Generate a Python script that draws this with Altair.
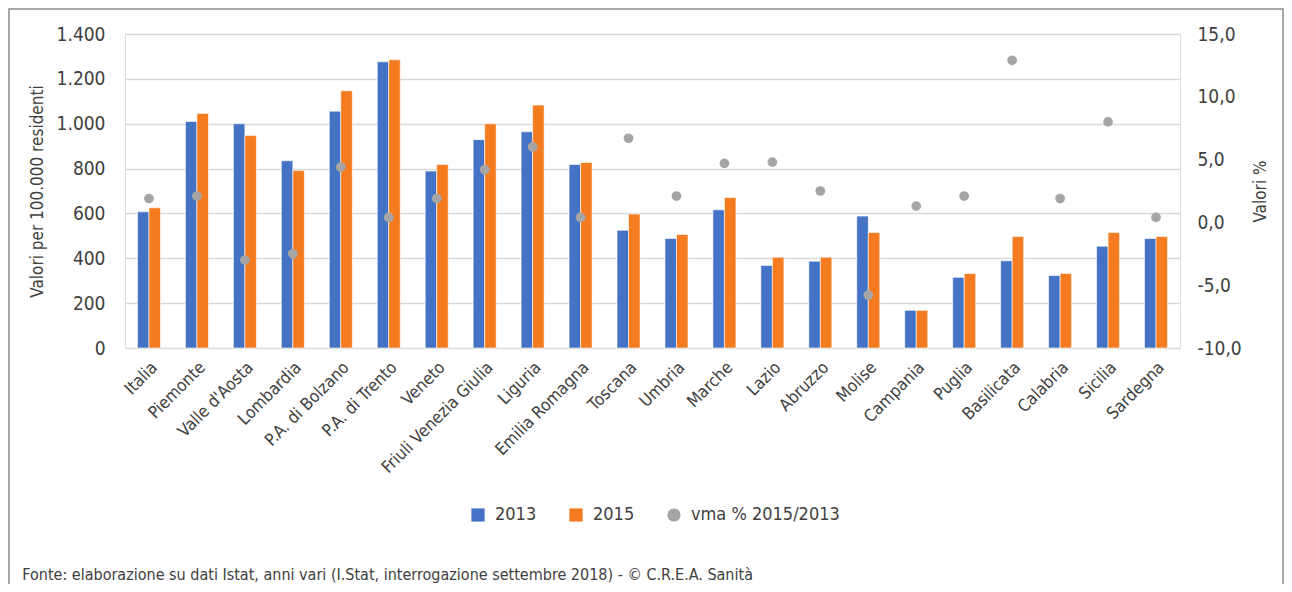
import altair as alt
import pandas as pd

regions = ["Italia", "Piemonte", "Valle d'Aosta", "Lombardia", "P.A. di Bolzano",
           "P.A. di Trento", "Veneto", "Friuli Venezia Giulia", "Liguria",
           "Emilia Romagna", "Toscana", "Umbria", "Marche", "Lazio", "Abruzzo",
           "Molise", "Campania", "Puglia", "Basilicata", "Calabria", "Sicilia", "Sardegna"]
v2013 = [607, 1010, 1000, 835, 1056, 1276, 789, 929, 964, 818, 525, 488, 616, 368, 387,
         588, 168, 315, 389, 323, 454, 488]
v2015 = [625, 1046, 947, 791, 1147, 1285, 818, 1000, 1083, 827, 597, 506, 671, 405, 405,
         515, 168, 332, 497, 332, 515, 497]
vma = [1.9, 2.1, -3.0, -2.5, 4.4, 0.4, 1.9, 4.2, 6.0, 0.4, 6.7, 2.1, 4.7, 4.8, 2.5,
       -5.8, 1.3, 2.1, 12.9, 1.9, 8.0, 0.4]

series = ["2013", "2015", "vma % 2015/2013"]
colors = ["#4472C4", "#F47B20", "#A5A5A5"]
shapes = ["square", "square", "circle"]

FONT = "Liberation Sans Narrow, DejaVu Sans Condensed, Roboto, sans-serif"
TXT = "#404040"

bars_df = pd.DataFrame({
    "regione": regions * 2,
    "serie": ["2013"] * len(regions) + ["2015"] * len(regions),
    "valore": v2013 + v2015,
})
pts_df = pd.DataFrame({"regione": regions, "serie": [series[2]] * len(regions), "vma": vma})

legend_kw = dict(title=None, orient="none", legendX=344, legendY=472, direction="horizontal",
                 labelFontSize=18, labelFont=FONT, labelColor=TXT, symbolSize=175,
                 symbolStrokeWidth=0, columnPadding=30, labelOffset=8, padding=0)

color_scale = alt.Scale(domain=series, range=colors)
shape_scale = alt.Scale(domain=series, range=shapes)

x_enc = alt.X("regione:N", sort=regions,
              scale=alt.Scale(paddingInner=0.52, paddingOuter=0.26),
              axis=alt.Axis(title=None, labelAngle=315, labelFontSize=17, labelFont=FONT,
                            labelColor=TXT, ticks=False, domain=False, labelPadding=11,
                            labelAlign="right"))

bars = alt.Chart(bars_df).mark_bar(stroke="white", strokeWidth=0.6).encode(
    x=x_enc,
    xOffset=alt.XOffset("serie:N", sort=["2013", "2015"]),
    y=alt.Y("valore:Q", scale=alt.Scale(domain=[0, 1400], nice=False),
            axis=alt.Axis(title="Valori per 100.000 residenti", values=list(range(0, 1401, 200)),
                          labelExpr="replace(format(datum.value, ','), ',', '.')",
                          grid=True, gridColor="#D9D9D9", gridWidth=1.6, domain=False,
                          ticks=False, labelFontSize=19, labelFont=FONT, labelColor=TXT,
                          labelPadding=20, titleFontSize=17, titleFont=FONT,
                          titleFontWeight="normal", titleColor=TXT, titlePadding=10)),
    color=alt.Color("serie:N", scale=color_scale, legend=alt.Legend(**legend_kw)),
)

points = alt.Chart(pts_df).mark_point(filled=True, opacity=1, size=95).encode(
    x=alt.X("regione:N", sort=regions),
    y=alt.Y("vma:Q", scale=alt.Scale(domain=[-10, 15], nice=False),
            axis=alt.Axis(title="Valori %", orient="right", values=[-10, -5, 0, 5, 10, 15],
                          labelExpr="(datum.value < 0 ? '-' : '') + replace(format(abs(datum.value), '.1f'), '.', ',')",
                          grid=False, domain=False, ticks=False, labelFontSize=19,
                          labelFont=FONT, labelColor=TXT, labelPadding=17,
                          titleFontSize=17, titleFont=FONT, titleFontWeight="normal",
                          titleColor=TXT, titleAngle=270, titlePadding=28)),
    color=alt.Color("serie:N", scale=color_scale, legend=alt.Legend(**legend_kw)),
    shape=alt.Shape("serie:N", scale=shape_scale, legend=alt.Legend(**legend_kw)),
)

frame = alt.Chart(pd.DataFrame({"f": [0]})).mark_rect(
    fill=None, stroke="#8C8C8C", strokeWidth=1.5, clip=False
).encode(x=alt.value(-116), x2=alt.value(1158), y=alt.value(-25), y2=alt.value(560))

chart = alt.layer(frame, bars, points).resolve_scale(y="independent").properties(
    width=1055, height=314,
    autosize=alt.AutoSizeParams(type="none"),
    padding={"left": 117, "top": 26, "right": 104, "bottom": 236},
    title=alt.TitleParams(
        text="Fonte: elaborazione su dati Istat, anni vari (I.Stat, interrogazione settembre 2018) - © C.R.E.A. Sanità",
        orient="bottom", anchor="start", dx=14, offset=-28, baseline="top",
        fontSize=16, font=FONT, fontWeight="normal", color=TXT),
).configure_view(stroke=None).configure(font=FONT)

chart.save("out.html", embed_options={"renderer": "svg", "actions": False})
